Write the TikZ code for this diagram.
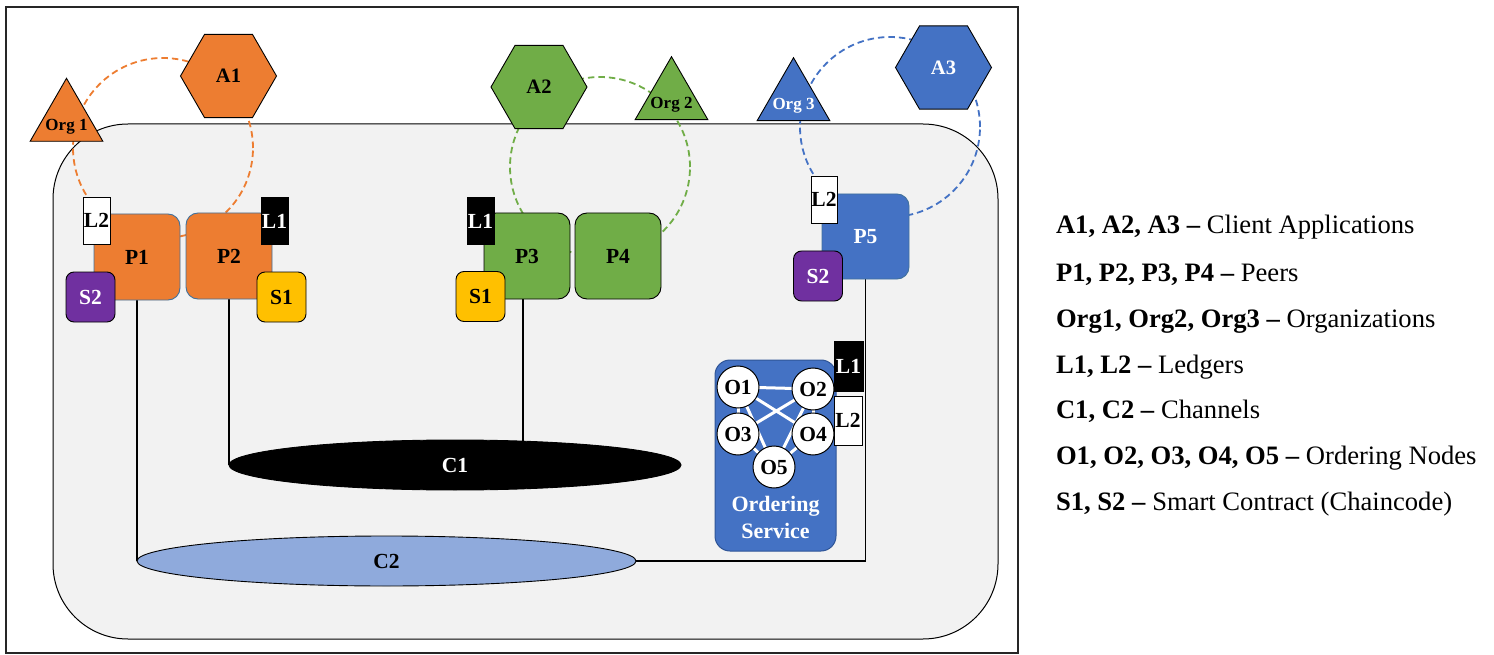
\documentclass[tikz,border=0pt]{standalone}
\usepackage{fontspec}
\setmainfont{Liberation Serif}
\usetikzlibrary{shapes.geometric}
\definecolor{orgorange}{HTML}{ED7D31}
\definecolor{orggreen}{HTML}{70AD47}
\definecolor{orgblue}{HTML}{4472C4}
\definecolor{edgeblue}{HTML}{41719C}
\definecolor{deepblue}{HTML}{2F5597}
\definecolor{scpurple}{HTML}{7030A0}
\definecolor{scyellow}{HTML}{FFC000}
\definecolor{chanblue}{HTML}{8FAADC}
\definecolor{netgray}{HTML}{F2F2F2}
\pgfdeclarelayer{base}
\pgfdeclarelayer{wires}
\pgfsetlayers{base,wires,main}
\begin{document}
\begin{tikzpicture}[x=1pt,y=-1pt,
  every node/.style={inner sep=0pt, outer sep=0pt},
  bold21/.style={font=\fontsize{21.5}{24}\selectfont\bfseries},
  hexa/.style={regular polygon, regular polygon sides=6, minimum size=96pt,
    draw=black, line width=0.9pt, font=\fontsize{20.5}{24}\selectfont\bfseries},
  tri/.style={regular polygon, regular polygon sides=3, minimum size=84pt,
    draw=black, line width=0.9pt},
  orglabel/.style={font=\fontsize{17}{20}\selectfont\bfseries, yshift=-6pt},
  ring/.style={circle, minimum size=180pt, dashed, dash pattern=on 6.5pt off 4pt,
    line width=1.8pt},
  peer/.style={rectangle, rounded corners=12pt, minimum width=86pt,
    minimum height=86pt, line width=0.9pt, bold21},
  ledger/.style={rectangle, minimum width=27pt, minimum height=47pt,
    draw=black, line width=0.9pt, bold21},
  contract/.style={rectangle, rounded corners=8pt, minimum width=49pt,
    minimum height=50pt, draw=black, line width=0.9pt, bold21},
  channel/.style={ellipse, draw=black, line width=0.9pt, minimum height=50pt, bold21},
  orderer/.style={circle, minimum size=42pt, fill=white, draw=black,
    line width=1pt, bold21},
  wire/.style={draw=black, line width=1.3pt},
  mesh/.style={draw=white, line width=3pt},
  legend/.style={anchor=base west, font=\fontsize{26.6}{30}\selectfont}
]
\useasboundingbox (0,0) rectangle (1494,655);

% ---------- background: frame, network area, organisation rings ----------
\begin{pgfonlayer}{base}
  \node[draw=black!85, line width=1.5pt, minimum width=1012pt, minimum height=646pt]
    (frame) at (512,330) {};
  \node[draw=black, fill=netgray, line width=1pt, rounded corners=75pt,
    minimum width=945pt, minimum height=515pt] (net) at (525.5,381.5) {};

  \node[ring, draw=orgorange] (ring1) at (163,148) {};
  \node[ring, draw=orggreen]  (ring2) at (600,167) {};
  \node[ring, draw=orgblue]   (ring3) at (890,127) {};

  % client applications
  \node[hexa, fill=orgorange] (a1) at (228.5,76) {A1};
  \node[hexa, fill=orggreen]  (a2) at (539,87) {A2};
  \node[hexa, fill=orgblue, text=white] (a3) at (943.5,67.5) {A3};

  % organisations
  \node[tri, fill=orgorange, label={[orglabel]center:Org 1}] (org1) at (66.5,120.3) {};
  \node[tri, fill=orggreen,  label={[orglabel]center:Org 2}] (org2) at (671.5,98.7) {};
  \node[tri, fill=orgblue,   label={[orglabel, text=white]center:Org 3}] (org3) at (793.5,99.7) {};

  % ordering service body
  \node[rectangle, rounded corners=15pt, fill=orgblue, draw=deepblue, line width=1pt,
    minimum width=121pt, minimum height=191pt] (ord) at (775.5,455.5) {};
\end{pgfonlayer}

% ---------- channels ----------
\node[channel, fill=black, text=white, minimum width=452pt] (c1) at (455,465) {C1};
\node[channel, fill=chanblue, minimum width=499pt] (c2) at (386.5,561) {C2};

% ---------- peers ----------
\node[peer, fill=orgorange, draw=edgeblue] (p1) at (137,257) {P1};
\node[peer, fill=orgorange, draw=edgeblue] (p2) at (229,256) {P2};
\node[peer, fill=orggreen, draw=black]     (p3) at (527,256) {P3};
\node[peer, fill=orggreen, draw=black]     (p4) at (618,256) {P4};
\node[peer, fill=orgblue, draw=edgeblue, text=white,
  minimum width=87pt, minimum height=85pt] (p5) at (865.5,236.5) {P5};

% ---------- ledgers ----------
\node[ledger, fill=white]             (p1l2) at (96.5,220.5) {L2};
\node[ledger, fill=black, text=white] (p2l1) at (274.5,221) {L1};
\node[ledger, fill=black, text=white] (p3l1) at (480.5,221) {L1};
\node[ledger, fill=white, minimum width=26pt] (p5l2) at (824,199.5) {L2};
\node[ledger, fill=black, text=white, minimum width=29pt, minimum height=50pt]
  (ordl1) at (848.5,366) {L1};
\node[ledger, fill=white, minimum width=28pt, minimum height=49pt]
  (ordl2) at (848,420.5) {L2};

% ---------- smart contracts ----------
\node[contract, fill=scpurple, text=white] (p1s2) at (90.5,297) {S2};
\node[contract, fill=scyellow]             (p2s1) at (281.5,297) {S1};
\node[contract, fill=scyellow]             (p3s1) at (480.5,296.5) {S1};
\node[contract, fill=scpurple, text=white] (p5s2) at (818,276) {S2};

% ---------- ordering nodes ----------
\node[orderer] (o1) at (738,387) {O1};
\node[orderer] (o2) at (813,389) {O2};
\node[orderer] (o3) at (738,434) {O3};
\node[orderer] (o4) at (813,434) {O4};
\node[orderer] (o5) at (774,467) {O5};
\node[font=\fontsize{22}{27}\selectfont\bfseries, text=white, align=center]
  (ordlabel) at (775.5,517) {Ordering\\Service};

% ---------- links ----------
\begin{pgfonlayer}{wires}
  \draw[wire] (p1.south) |- (c2.west);
  \draw[wire] (p2.south) |- (c1.west);
  \draw[wire] ([xshift=-4pt]p3.south) -- ([xshift=-4pt]p3.south |- c1.center);
  \draw[wire] (p5.south) |- (c2.east);

  \draw[mesh] (o1) -- (o2);
  \draw[mesh] (o1) -- (o3);
  \draw[mesh] (o2) -- (o4);
  \draw[mesh] (o1) -- (o4);
  \draw[mesh] (o2) -- (o3);
  \draw[mesh] (o1) -- (o5);
  \draw[mesh] (o2) -- (o5);
  \draw[mesh] (o3) -- (o5);
  \draw[mesh] (o4) -- (o5);
\end{pgfonlayer}

% ---------- legend ----------
\node[legend] (leg1) at (1056,234) {\textbf{A1, A2, A3 –} Client Applications};
\node[legend] (leg2) at (1056,281) {\textbf{P1, P2, P3, P4 –} Peers};
\node[legend] (leg3) at (1056,327) {\textbf{Org1, Org2, Org3 –} Organizations};
\node[legend] (leg4) at (1056,373) {\textbf{L1, L2 –} Ledgers};
\node[legend] (leg5) at (1056,418) {\textbf{C1, C2 –} Channels};
\node[legend] (leg6) at (1056,464) {\textbf{O1, O2, O3, O4, O5 –} Ordering Nodes};
\node[legend] (leg7) at (1056,510) {\textbf{S1, S2 –} Smart Contract (Chaincode)};
\end{tikzpicture}
\end{document}
